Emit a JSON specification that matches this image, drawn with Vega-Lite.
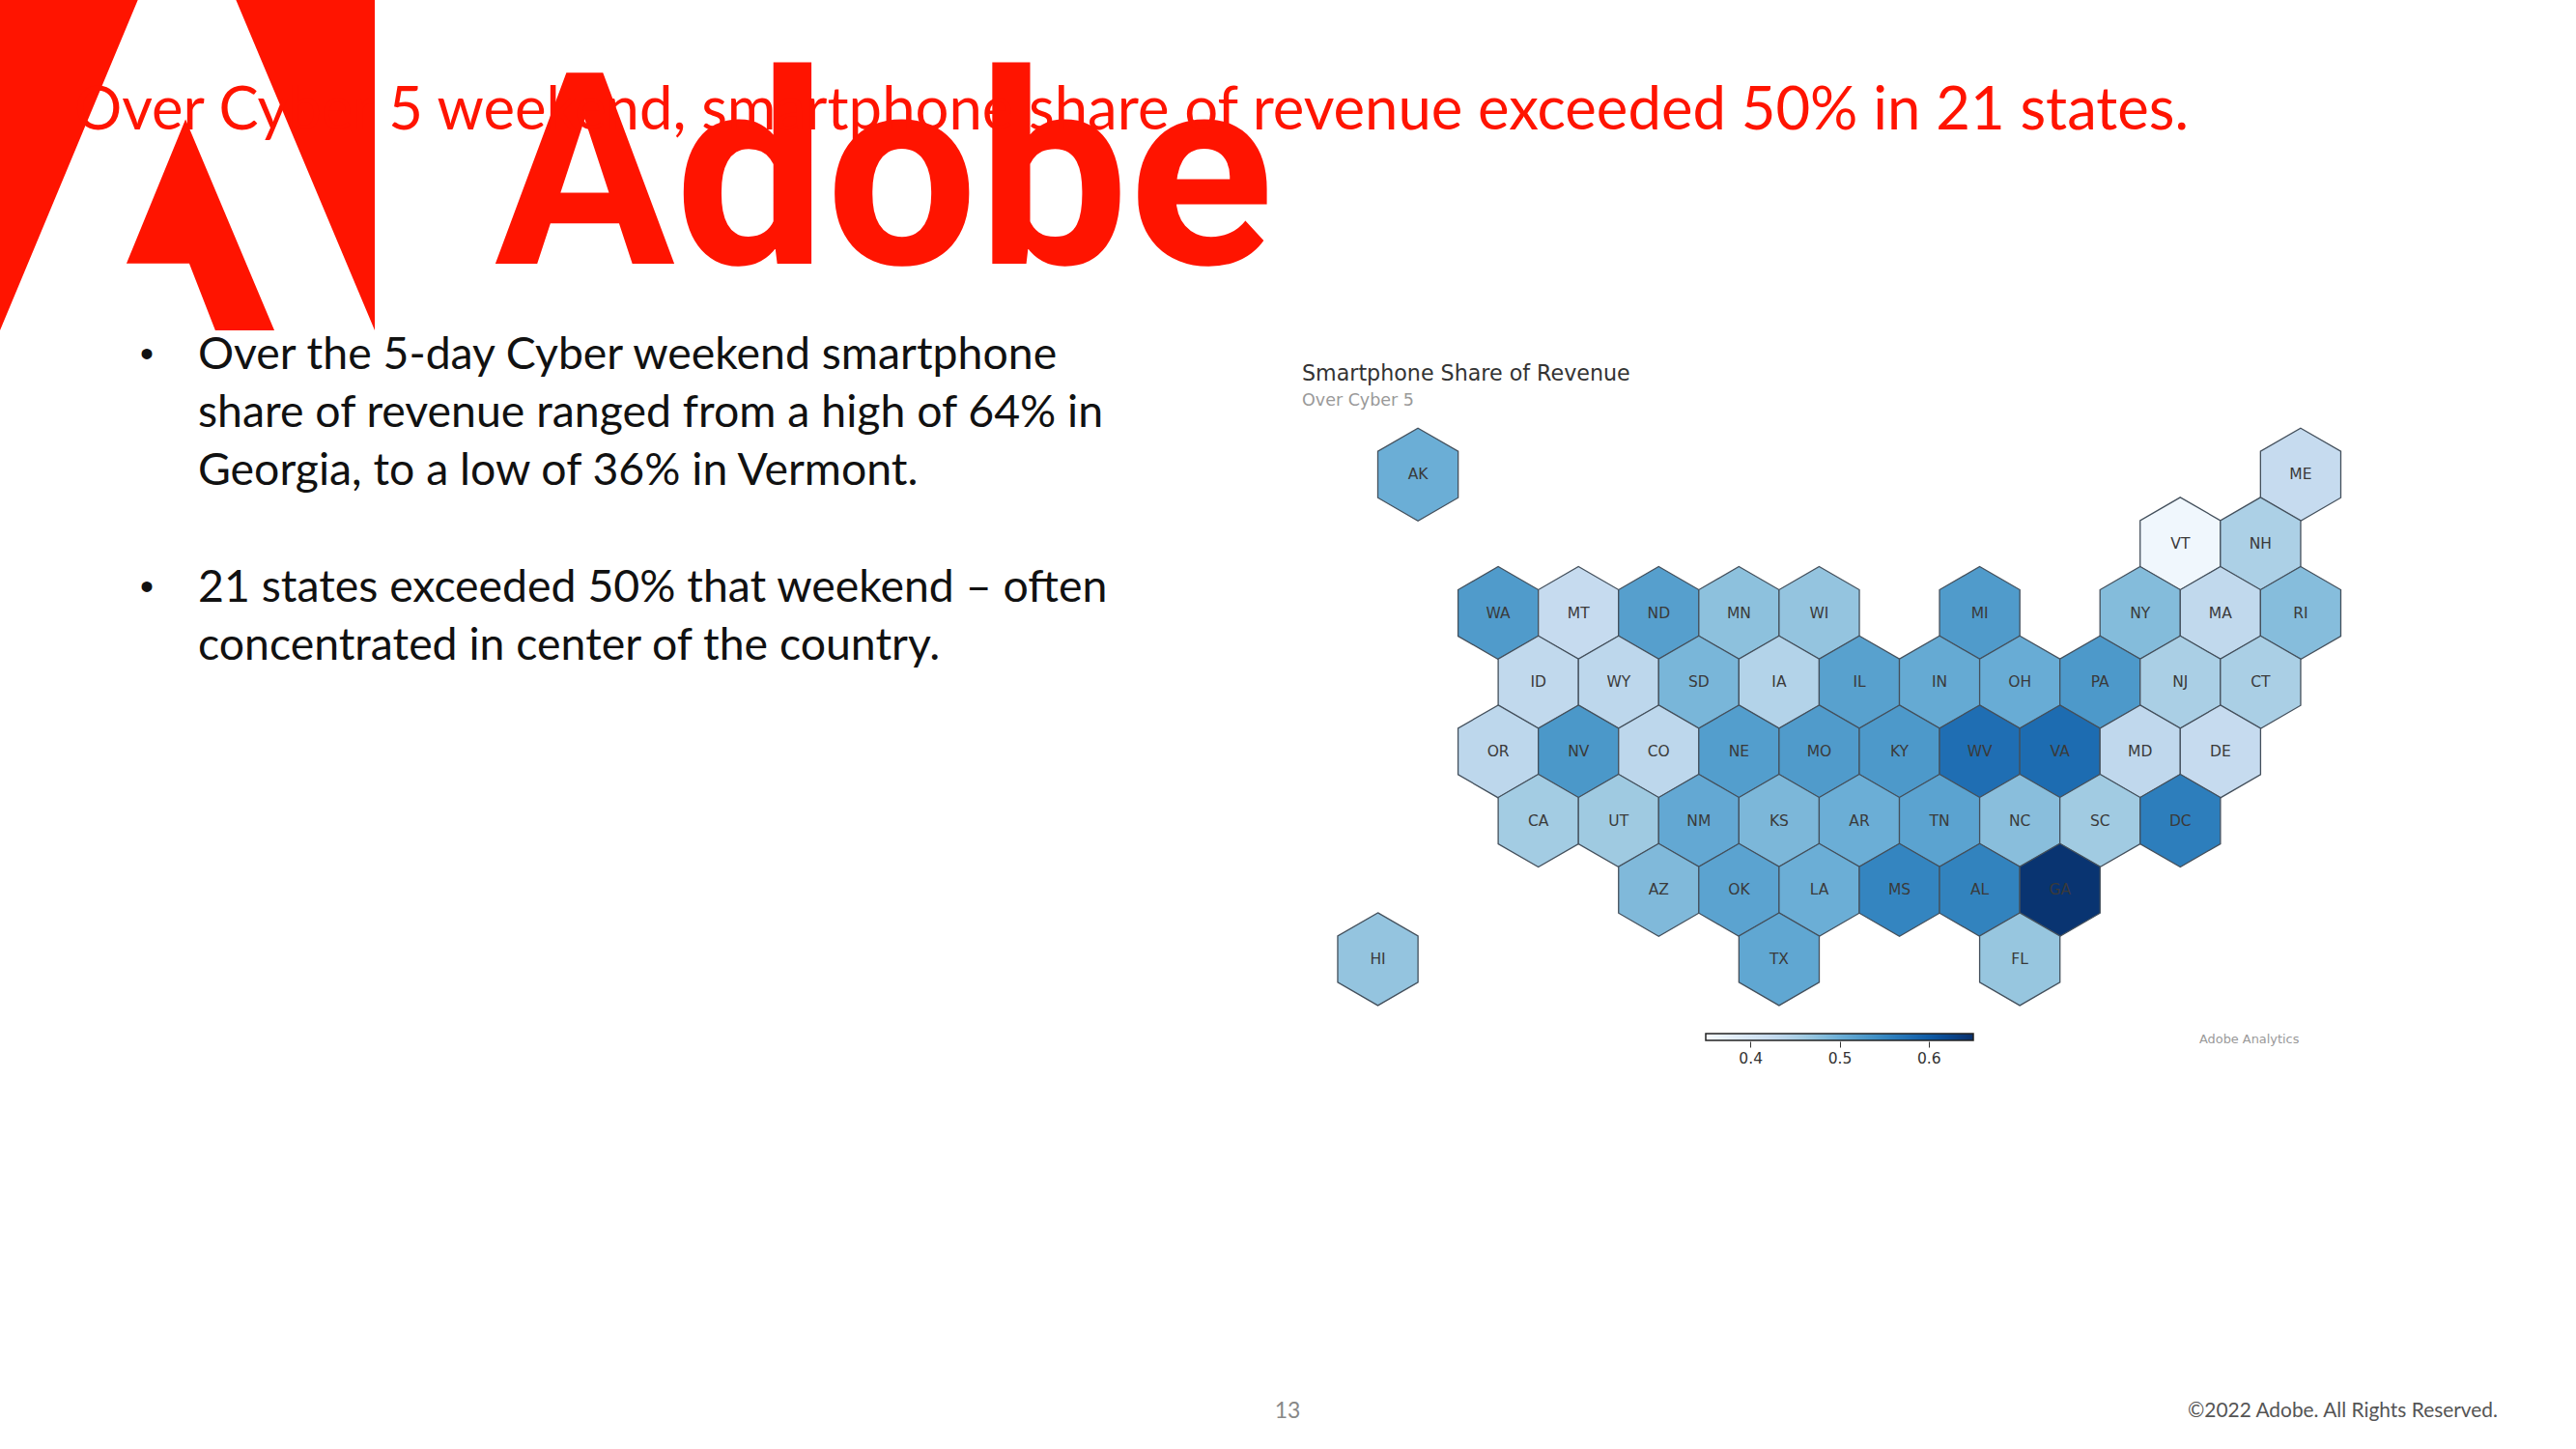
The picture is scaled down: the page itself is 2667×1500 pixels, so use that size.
{
  "$schema": "https://vega.github.io/schema/vega-lite/v6.json",
  "description": "Slide: smartphone share of revenue over Cyber 5, hex map of US states.",
  "width": 2667,
  "height": 1500,
  "padding": 0,
  "autosize": {"type": "none"},
  "background": "white",
  "config": {"view": {"stroke": null}},
  "datasets": {
    "states": [
      {"state": "AK", "col": -1, "row": 0, "share": 0.5},
      {"state": "ME", "col": 10, "row": 0, "share": 0.425},
      {"state": "VT", "col": 8.5, "row": 1, "share": 0.36},
      {"state": "NH", "col": 9.5, "row": 1, "share": 0.45},
      {"state": "WA", "col": 0, "row": 2, "share": 0.525},
      {"state": "MT", "col": 1, "row": 2, "share": 0.425},
      {"state": "ND", "col": 2, "row": 2, "share": 0.52},
      {"state": "MN", "col": 3, "row": 2, "share": 0.475},
      {"state": "WI", "col": 4, "row": 2, "share": 0.47},
      {"state": "MI", "col": 6, "row": 2, "share": 0.525},
      {"state": "NY", "col": 8, "row": 2, "share": 0.482},
      {"state": "MA", "col": 9, "row": 2, "share": 0.43},
      {"state": "RI", "col": 10, "row": 2, "share": 0.48},
      {"state": "ID", "col": 0.5, "row": 3, "share": 0.43},
      {"state": "WY", "col": 1.5, "row": 3, "share": 0.434},
      {"state": "SD", "col": 2.5, "row": 3, "share": 0.49},
      {"state": "IA", "col": 3.5, "row": 3, "share": 0.443},
      {"state": "IL", "col": 4.5, "row": 3, "share": 0.518},
      {"state": "IN", "col": 5.5, "row": 3, "share": 0.506},
      {"state": "OH", "col": 6.5, "row": 3, "share": 0.503},
      {"state": "PA", "col": 7.5, "row": 3, "share": 0.528},
      {"state": "NJ", "col": 8.5, "row": 3, "share": 0.452},
      {"state": "CT", "col": 9.5, "row": 3, "share": 0.452},
      {"state": "OR", "col": 0, "row": 4, "share": 0.434},
      {"state": "NV", "col": 1, "row": 4, "share": 0.53},
      {"state": "CO", "col": 2, "row": 4, "share": 0.434},
      {"state": "NE", "col": 3, "row": 4, "share": 0.522},
      {"state": "MO", "col": 4, "row": 4, "share": 0.525},
      {"state": "KY", "col": 5, "row": 4, "share": 0.528},
      {"state": "WV", "col": 6, "row": 4, "share": 0.578},
      {"state": "VA", "col": 7, "row": 4, "share": 0.581},
      {"state": "MD", "col": 8, "row": 4, "share": 0.431},
      {"state": "DE", "col": 9, "row": 4, "share": 0.425},
      {"state": "CA", "col": 0.5, "row": 5, "share": 0.458},
      {"state": "UT", "col": 1.5, "row": 5, "share": 0.462},
      {"state": "NM", "col": 2.5, "row": 5, "share": 0.508},
      {"state": "KS", "col": 3.5, "row": 5, "share": 0.488},
      {"state": "AR", "col": 4.5, "row": 5, "share": 0.5},
      {"state": "TN", "col": 5.5, "row": 5, "share": 0.515},
      {"state": "NC", "col": 6.5, "row": 5, "share": 0.478},
      {"state": "SC", "col": 7.5, "row": 5, "share": 0.46},
      {"state": "DC", "col": 8.5, "row": 5, "share": 0.56},
      {"state": "AZ", "col": 2, "row": 6, "share": 0.485},
      {"state": "OK", "col": 3, "row": 6, "share": 0.515},
      {"state": "LA", "col": 4, "row": 6, "share": 0.5},
      {"state": "MS", "col": 5, "row": 6, "share": 0.552},
      {"state": "AL", "col": 6, "row": 6, "share": 0.555},
      {"state": "GA", "col": 7, "row": 6, "share": 0.645},
      {"state": "HI", "col": -1.5, "row": 7, "share": 0.47},
      {"state": "TX", "col": 3.5, "row": 7, "share": 0.51},
      {"state": "FL", "col": 6.5, "row": 7, "share": 0.468}
    ],
    "bullets": [
      {"indent": 0, "line": 1, "text": "•"},
      {"indent": 1, "line": 1, "text": "Over the 5-day Cyber weekend smartphone"},
      {"indent": 1, "line": 2, "text": "share of revenue ranged from a high of 64% in"},
      {"indent": 1, "line": 3, "text": "Georgia, to a low of 36% in Vermont."},
      {"indent": 0, "line": 5, "text": "•"},
      {"indent": 1, "line": 5, "text": "21 states exceeded 50% that weekend – often"},
      {"indent": 1, "line": 6, "text": "concentrated in center of the country."}
    ]
  },
  "resolve": {
    "scale": {"x": "independent", "y": "independent", "color": "independent"},
    "axis": {"x": "independent", "y": "independent"}
  },
  "layer": [
    {
      "data": {"values": [{"name": "Adobe logo"}]},
      "mark": {
        "type": "point",
        "filled": true,
        "opacity": 1,
        "size": 150544,
        "color": "#ff1400",
        "shape": "M-1,-0.88L-0.263,-0.88L-1,0.887ZM0.258,-0.88L1,-0.88L1,0.887ZM-0.01,-0.24L0.464,0.887L0.149,0.887L0.01,0.53L-0.325,0.53Z"
      },
      "encoding": {
        "x": {"datum": 0, "axis": null, "scale": {"domain": [-1, 1], "range": [0, 388]}},
        "y": {"datum": 0, "axis": null, "scale": {"domain": [-1, 1], "range": [0, 340]}}
      }
    },
    {
      "data": {"values": [{"text": "Adobe"}]},
      "mark": {"type": "text", "align": "left", "baseline": "alphabetic", "font": "Roboto", "fontWeight": "bold", "fontSize": 278, "color": "#ff1400"},
      "encoding": {
        "text": {"field": "text"},
        "x": {"datum": 0, "axis": null, "scale": {"domain": [0, 1], "range": [512, 513]}},
        "y": {"datum": 0, "axis": null, "scale": {"domain": [0, 1], "range": [273, 274]}}
      }
    },
    {
      "data": {"values": [{"text": "Over Cyber 5 weekend, smartphone share of revenue exceeded 50% in 21 states."}]},
      "mark": {"type": "text", "align": "left", "baseline": "alphabetic", "font": "Lato", "fontSize": 61.6, "color": "#ff1400"},
      "encoding": {
        "text": {"field": "text"},
        "x": {"datum": 0, "axis": null, "scale": {"domain": [0, 1], "range": [77, 78]}},
        "y": {"datum": 0, "axis": null, "scale": {"domain": [0, 1], "range": [134, 135]}}
      }
    },
    {
      "data": {"name": "bullets"},
      "encoding": {
        "text": {"field": "text"},
        "x": {"field": "indent", "type": "quantitative", "axis": null, "scale": {"domain": [0, 1], "range": [145, 205]}},
        "y": {"field": "line", "type": "quantitative", "axis": null, "scale": {"domain": [1, 6], "range": [368, 669]}}
      },
      "layer": [
        {
          "transform": [{"filter": "datum.indent == 1"}],
          "mark": {"type": "text", "align": "left", "baseline": "middle", "font": "Lato", "fontSize": 46.4, "color": "#111111"}
        },
        {
          "transform": [{"filter": "datum.indent == 0"}],
          "mark": {"type": "text", "align": "left", "baseline": "middle", "font": "Liberation Sans", "fontSize": 40, "color": "#111111"}
        }
      ]
    },
    {
      "data": {"values": [{"text": "Smartphone Share of Revenue"}]},
      "mark": {"type": "text", "align": "left", "baseline": "middle", "font": "DejaVu Sans", "fontSize": 22.2, "color": "#333333"},
      "encoding": {
        "text": {"field": "text"},
        "x": {"datum": 0, "axis": null, "scale": {"domain": [0, 1], "range": [1348, 1349]}},
        "y": {"datum": 0, "axis": null, "scale": {"domain": [0, 1], "range": [387, 388]}}
      }
    },
    {
      "data": {"values": [{"text": "Over Cyber 5"}]},
      "mark": {"type": "text", "align": "left", "baseline": "middle", "font": "DejaVu Sans", "fontSize": 17.5, "color": "#999999"},
      "encoding": {
        "text": {"field": "text"},
        "x": {"datum": 0, "axis": null, "scale": {"domain": [0, 1], "range": [1348, 1349]}},
        "y": {"datum": 0, "axis": null, "scale": {"domain": [0, 1], "range": [415, 416]}}
      }
    },
    {
      "data": {"name": "states"},
      "encoding": {
        "x": {"field": "col", "type": "quantitative", "axis": null, "scale": {"domain": [-2, 11], "range": [1385, 2465]}},
        "y": {"field": "row", "type": "quantitative", "axis": null, "scale": {"domain": [0, 7], "range": [491.2, 992.9]}}
      },
      "layer": [
        {
          "mark": {
            "type": "point",
            "filled": true,
            "opacity": 1,
            "size": 9219,
            "stroke": "#44505c",
            "strokeWidth": 1.3,
            "shape": "M0,-1L0.866,-0.5L0.866,0.5L0,1L-0.866,0.5L-0.866,-0.5Z"
          },
          "encoding": {
            "fill": {
              "field": "share",
              "type": "quantitative",
              "scale": {
                "type": "linear",
                "domain": [0.35, 0.65],
                "range": ["#f7fbff", "#deebf7", "#c6dbef", "#9ecae1", "#6baed6", "#4292c6", "#2171b5", "#08519c", "#08306b"]
              },
              "legend": {
                "orient": "none",
                "direction": "horizontal",
                "legendX": 1766,
                "legendY": 1070,
                "title": null,
                "gradientLength": 277,
                "gradientThickness": 7,
                "gradientStrokeColor": "#222222",
                "gradientStrokeWidth": 1.5,
                "labelOpacity": 0
              }
            }
          }
        },
        {
          "mark": {"type": "text", "font": "DejaVu Sans", "fontSize": 15.5, "color": "#3a3a3a", "baseline": "middle", "align": "center"},
          "encoding": {"text": {"field": "state"}}
        }
      ]
    },
    {
      "data": {"values": [{"share": 0.4}, {"share": 0.5}, {"share": 0.6}]},
      "mark": {"type": "tick", "opacity": 0},
      "encoding": {
        "x": {
          "field": "share",
          "type": "quantitative",
          "scale": {"domain": [0.35, 0.65], "range": [1766, 2043]},
          "axis": {
            "orient": "bottom",
            "offset": -422,
            "values": [0.4, 0.5, 0.6],
            "format": ".1f",
            "title": null,
            "domain": false,
            "grid": false,
            "tickSize": 6,
            "tickColor": "#333333",
            "labelFont": "DejaVu Sans",
            "labelFontSize": 15.5,
            "labelColor": "#333333",
            "labelPadding": 4
          }
        }
      }
    },
    {
      "data": {"values": [{"text": "Adobe Analytics"}]},
      "mark": {"type": "text", "align": "left", "baseline": "middle", "font": "DejaVu Sans", "fontSize": 12.9, "color": "#999999"},
      "encoding": {
        "text": {"field": "text"},
        "x": {"datum": 0, "axis": null, "scale": {"domain": [0, 1], "range": [2277, 2278]}},
        "y": {"datum": 0, "axis": null, "scale": {"domain": [0, 1], "range": [1076, 1077]}}
      }
    },
    {
      "data": {"values": [{"text": "13"}]},
      "mark": {"type": "text", "align": "center", "baseline": "middle", "font": "Lato", "fontSize": 23, "color": "#888888"},
      "encoding": {
        "text": {"field": "text"},
        "x": {"datum": 0, "axis": null, "scale": {"domain": [0, 1], "range": [1333, 1334]}},
        "y": {"datum": 0, "axis": null, "scale": {"domain": [0, 1], "range": [1461, 1462]}}
      }
    },
    {
      "data": {"values": [{"text": "©2022 Adobe. All Rights Reserved."}]},
      "mark": {"type": "text", "align": "right", "baseline": "middle", "font": "Lato", "fontSize": 20.9, "color": "#555555"},
      "encoding": {
        "text": {"field": "text"},
        "x": {"datum": 0, "axis": null, "scale": {"domain": [0, 1], "range": [2586, 2587]}},
        "y": {"datum": 0, "axis": null, "scale": {"domain": [0, 1], "range": [1461, 1462]}}
      }
    }
  ]
}
